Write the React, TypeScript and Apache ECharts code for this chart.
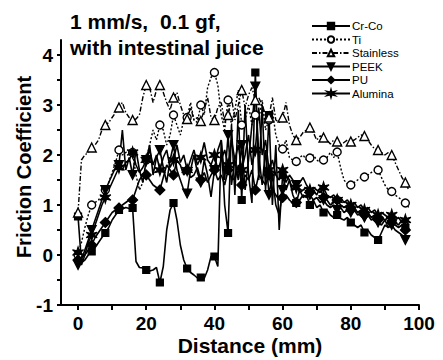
import React, { useEffect, useRef } from 'react';
import * as echarts from 'echarts';

// Distance grid (mm), one sample per mm
const distance: number[] = Array.from({ length: 98 }, (_, i) => i);

const seriesNames = ['Cr-Co', 'Ti', 'Stainless', 'PEEK', 'PU', 'Alumina'];

const crCo = [
  0.77, -0.15, -0.1, 0.0, 0.07, 0.15, 0.25, 0.35, 0.44, 0.55,
  0.7, 0.8, 0.9, 0.92, 0.95, 0.93, 0.94, -0.13, -0.25, -0.26,
  -0.3, -0.32, -0.3, -0.25, -0.55, -0.23, 0.5, 0.9, 1.04, 0.7,
  0.2, -0.1, -0.27, -0.35, -0.4, -0.46, -0.45, -0.47, -0.3, -0.03,
  -0.03, -0.23, 2.3, 1.0, 0.44, 2.6, 1.2, 2.9, 1.1, 3.0,
  1.6, 1.04, 3.65, 1.5, 3.0, 1.3, 2.8, 1.0, 2.2, 0.5,
  1.6, 1.3, 1.5, 1.2, 1.04, 1.3, 1.15, 1.2, 1.0, 1.1,
  0.95, 1.0, 0.85, 0.9, 0.8, 0.75, 0.8, 0.73, 0.7, 0.75,
  0.65, 0.6, 0.55, 0.6, 0.45, 0.5, 0.4, 0.35, 0.3, 0.45,
  0.6, 0.55, 0.7, 0.65, 0.6, 0.7, 0.55, 0.6,
];

const ti = [
  0.0, 0.25, 0.55, 0.8, 1.0, 1.05, 1.1, 1.2, 1.3, 1.45,
  1.65, 1.85, 2.1, 2.0, 2.05, 2.1, 2.05, 1.6, 1.3, 1.45,
  1.9, 2.2, 2.5, 2.3, 2.6, 2.5, 2.2, 2.4, 2.8, 2.6,
  2.4, 2.7, 2.75, 3.05, 2.7, 2.65, 3.0, 2.8, 3.35, 3.55,
  3.65, 3.4, 2.8, 2.5, 3.1, 2.6, 2.9, 3.3, 2.6, 2.7,
  3.0, 2.6, 2.8, 2.7, 3.1, 2.5, 2.7, 2.9, 2.4, 2.2,
  2.12, 2.3, 1.95, 1.9, 1.87, 1.95, 2.0, 1.9, 1.94, 2.0,
  1.9, 1.85, 1.9, 1.95, 2.05, 1.95, 2.06, 1.75, 1.5, 1.42,
  1.4, 1.45, 1.5, 1.55, 1.56, 1.6, 1.65, 1.68, 1.7, 1.55,
  1.4, 1.3, 1.27, 1.2, 1.15, 1.1, 1.04, 0.95,
];

const stainless = [
  0.85, 1.9, 2.0, 2.05, 2.15, 2.2, 2.3, 2.5, 2.6, 2.65,
  2.75, 2.85, 2.95, 3.05, 2.85, 2.75, 2.7, 2.72, 2.8, 3.15,
  3.4, 3.35, 3.05, 3.3, 3.4, 3.25, 3.05, 2.9, 3.15, 3.25,
  3.0, 2.8, 2.72, 2.95, 2.7, 2.75, 2.68, 2.9, 3.15, 2.75,
  2.7, 2.95, 3.05, 2.65, 2.8, 3.15, 2.7, 3.0, 3.3, 2.95,
  3.2, 3.35, 3.1, 3.15, 3.0, 2.8, 2.75, 3.15, 2.7, 2.65,
  2.75, 3.05, 2.6, 2.4, 2.3, 2.35, 2.45, 2.5, 2.55, 2.45,
  2.3, 2.38, 2.35, 2.3, 2.22, 2.3, 2.27, 2.2, 2.25, 2.3,
  2.27, 2.3, 2.35, 2.4, 2.38, 2.3, 2.2, 2.12, 2.1, 2.05,
  2.0, 2.05, 2.0, 1.85, 1.7, 1.55, 1.45, 1.3,
];

const peek = [
  -0.2, -0.1, 0.1, 0.3, 0.5, 0.7, 0.9, 1.1, 1.3, 1.45,
  1.6, 1.75, 1.8, 2.5, 1.7, 1.95, 1.6, 2.1, 1.7, 1.45,
  1.9, 2.2, 1.6, 1.95, 2.1, 1.75, 1.45, 1.9, 2.2, 1.7,
  1.5, 1.3, 1.23, 1.7, 2.0, 1.65, 1.45, 1.9, 1.6, 1.16,
  1.7, 2.1, 2.3, 1.5, 2.4, 1.4, 1.9, 1.5, 2.2, 1.3,
  1.9, 2.6, 3.37, 2.0, 1.4, 2.1, 1.2, 1.6, 1.0, 0.8,
  1.3, 1.6, 1.5, 1.3, 1.4, 1.25, 1.3, 1.35, 1.2, 1.1,
  1.15, 1.05, 1.1, 1.0, 0.95, 1.0, 0.9, 0.95, 0.85, 0.9,
  0.85, 0.9, 0.8, 0.85, 0.75, 0.8, 0.7, 0.75, 0.65, 0.6,
  0.7, 0.55, 0.6, 0.5, 0.45, 0.4, 0.3, 0.35,
];

const pu = [
  -0.1, -0.05, 0.0, 0.1, 0.2, 0.35, 0.45, 0.55, 0.65, 0.75,
  0.85, 0.9, 0.94, 1.0, 1.05, 1.1, 1.1, 1.3, 1.5, 1.6,
  1.6, 1.5, 1.4, 1.35, 1.3, 1.55, 1.8, 1.7, 1.6, 1.9,
  1.8, 1.6, 1.7, 1.55, 1.6, 1.75, 1.5, 1.65, 1.45, 1.6,
  1.7, 1.5, 1.6, 1.4, 1.7, 1.55, 1.5, 1.8, 1.4, 1.6,
  1.5, 1.7, 1.3, 1.6, 1.5, 1.4, 1.6, 1.3, 1.2, 1.1,
  1.15, 1.2, 1.1, 1.04, 1.05, 1.1, 1.2, 1.15, 1.25, 1.3,
  1.2, 1.35, 1.15, 1.1, 1.0, 1.05, 1.1, 1.0, 0.95, 1.0,
  0.9, 0.95, 0.85, 0.9, 0.8, 0.85, 0.75, 0.8, 0.7, 0.75,
  0.7, 0.75, 0.65, 0.6, 0.55, 0.6, 0.5, 0.5,
];

const alumina = [
  0.05, -0.2, 0.0, 0.25, 0.4, 0.6, 0.8, 1.0, 1.15, 1.3,
  1.45, 1.6, 1.75, 1.7, 1.85, 1.9, 2.05, 1.8, 1.65, 1.75,
  1.9, 2.1, 1.8, 2.0, 1.7, 1.95, 2.1, 1.75, 1.9, 2.2,
  1.85, 2.0, 1.7, 1.9, 2.1, 1.8, 1.95, 2.25, 1.9, 1.8,
  2.0, 1.7, 1.9, 2.1, 1.8, 2.3, 1.9, 2.2, 1.7, 2.0,
  2.4, 1.8, 2.1, 2.95, 2.0, 2.3, 1.7, 1.9, 1.6, 1.5,
  1.7, 1.45, 1.6, 1.5, 1.35, 1.45, 1.55, 1.4, 1.3, 1.35,
  1.3, 1.25, 1.35, 1.2, 1.15, 1.2, 1.1, 1.15, 1.05, 1.1,
  1.0, 1.05, 0.95, 1.0, 0.9, 0.95, 0.85, 0.9, 0.8, 0.85,
  0.8, 0.75, 0.8, 0.7, 0.75, 0.65, 0.7, 0.6,
];

const xLabelValues = [0, 20, 40, 60, 80, 100];
const xTickValues = [0, 10, 20, 30, 40, 50, 60, 70, 80, 90, 100];
const yLabelValues = [-1, 0, 1, 2, 3, 4];
const yTickValues = [-1, -0.5, 0, 0.5, 1, 1.5, 2, 2.5, 3, 3.5, 4];

const FONT = '"Liberation Sans", Arial, Helvetica, sans-serif';
const STAR =
  'path://M5,0 L5.9,3.44 L9.33,2.5 L6.8,5 L9.33,7.5 L5.9,6.56 L5,10 L4.1,6.56 L0.67,7.5 L3.2,5 L0.67,2.5 L4.1,3.44 Z';

function withMarkers(ys: number[]) {
  return ys.map((y, i) =>
    i % 4 === 0 ? { value: [distance[i], y] } : { value: [distance[i], y], symbol: 'none' }
  );
}

export default function App() {
  const ref = useRef<HTMLDivElement>(null);
  useEffect(() => {
    if (!ref.current) return;
    const chart = echarts.init(ref.current, null, { renderer: 'svg' });
    const black = '#000';
    const base = (name: string, ys: number[], extra: any) => ({
      name,
      type: 'line',
      data: withMarkers(ys),
      showSymbol: true,
      lineStyle: { color: black, width: 1.6 },
      itemStyle: { color: black, borderColor: black, borderWidth: 1.2 },
      emphasis: { disabled: true },
      z: 2,
      ...extra,
    });
    const option: any = {
      animation: false,
      backgroundColor: '#fff',
      grid: { left: 61, right: 24, top: 40, bottom: 55, containLabel: false },
      legend: {
        orient: 'vertical',
        left: 306,
        top: 15,
        itemWidth: 38,
        itemHeight: 8,
        itemGap: 1.5,
        data: seriesNames,
        textStyle: { fontFamily: FONT, fontSize: 11.5, color: black, padding: [0, 0, 0, -3] },
        selectedMode: false,
      },
      xAxis: {
        type: 'value',
        min: -5,
        max: 100,
        axisLine: { onZero: false, lineStyle: { color: black, width: 2 } },
        axisTick: { customValues: xTickValues, length: 5, lineStyle: { color: black, width: 2 } },
        axisLabel: {
          customValues: xLabelValues,
          fontFamily: FONT,
          fontSize: 19,
          fontWeight: 'bold',
          color: black,
          margin: 9,
        },
        splitLine: { show: false },
      },
      yAxis: {
        type: 'value',
        min: -1,
        max: 4.3,
        axisLine: { onZero: false, lineStyle: { color: black, width: 2 } },
        axisTick: { customValues: yTickValues, length: 4, lineStyle: { color: black, width: 2 } },
        axisLabel: {
          customValues: yLabelValues,
          fontFamily: FONT,
          fontSize: 19,
          fontWeight: 'bold',
          color: black,
          margin: 8,
        },
        splitLine: { show: false },
      },
      graphic: [
        {
          type: 'text',
          left: 70,
          top: 11,
          style: { text: '1 mm/s,  0.1 gf,', font: `bold 21px ${FONT}`, fill: black },
        },
        {
          type: 'text',
          left: 70,
          top: 37,
          style: { text: 'with intestinal juice', font: `bold 21px ${FONT}`, fill: black },
        },
        {
          type: 'text',
          x: 24,
          y: 167,
          rotation: Math.PI / 2,
          style: {
            text: 'Friction Coefficient',
            font: `bold 20px ${FONT}`,
            fill: black,
            align: 'center',
            verticalAlign: 'middle',
          },
        },
        {
          type: 'text',
          x: 250,
          y: 345,
          style: {
            text: 'Distance (mm)',
            font: `bold 21px ${FONT}`,
            fill: black,
            align: 'center',
            verticalAlign: 'middle',
          },
        },
      ],
      series: [
        base('Cr-Co', crCo, { symbol: 'rect', symbolSize: 7 }),
        base('Ti', ti, {
          symbol: 'circle',
          symbolSize: 8,
          lineStyle: { color: black, width: 1.4, type: [2, 2] },
          itemStyle: { color: '#fff', borderColor: black, borderWidth: 1.4 },
        }),
        base('Stainless', stainless, {
          symbol: 'triangle',
          symbolSize: 9,
          lineStyle: { color: black, width: 1.4, type: [5, 2, 1.5, 2] },
          itemStyle: { color: '#fff', borderColor: black, borderWidth: 1.4 },
        }),
        base('PEEK', peek, { symbol: 'triangle', symbolSize: 9, symbolRotate: 180 }),
        base('PU', pu, { symbol: 'diamond', symbolSize: 10 }),
        base('Alumina', alumina, { symbol: STAR, symbolSize: 11 }),
      ],
    };
    chart.setOption(option);
    return () => chart.dispose();
  }, []);
  return (
    <div
      ref={ref}
      style={{ position: 'fixed', left: 0, top: 0, width: 443, height: 360, background: '#fff' }}
    />
  );
}
